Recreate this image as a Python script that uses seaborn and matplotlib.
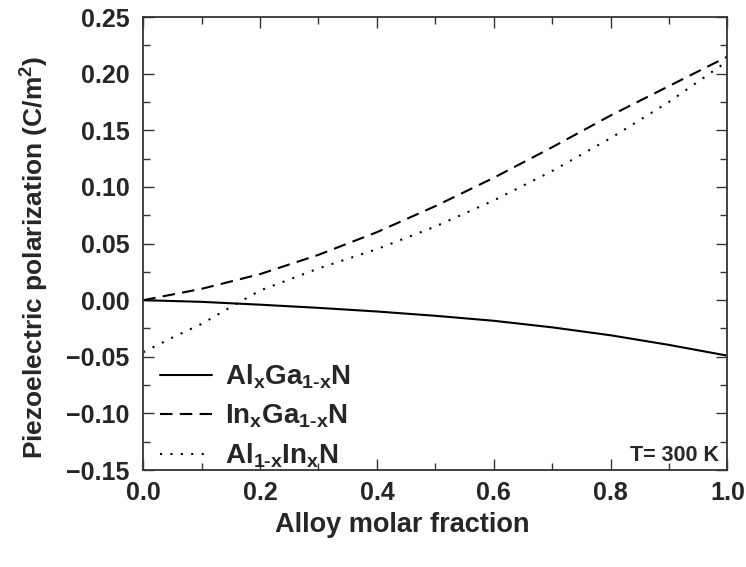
import numpy as np
import pandas as pd
import seaborn as sns
import matplotlib
matplotlib.use("Agg")
import matplotlib.pyplot as plt
from matplotlib.ticker import MultipleLocator

# Data
x_algan = [0.0, 0.1, 0.2, 0.3, 0.4, 0.5, 0.6, 0.7, 0.8, 0.9, 1.0]
y_algan = [0.0, -0.0015, -0.004, -0.0068, -0.010, -0.0138, -0.0182, -0.024, -0.031, -0.0395, -0.049]

x_ingan = [0.0, 0.1, 0.2, 0.3, 0.4, 0.5, 0.6, 0.7, 0.8, 0.9, 1.0]
y_ingan = [0.0, 0.010, 0.023, 0.040, 0.060, 0.083, 0.108, 0.135, 0.163, 0.189, 0.215]

x_alinn = [0.0, 0.05, 0.1, 0.15, 0.2, 0.3, 0.4, 0.5, 0.6, 0.7, 0.8, 0.9, 1.0]
y_alinn = [-0.046, -0.033, -0.021, -0.006, 0.0085, 0.028, 0.045, 0.065, 0.088, 0.114, 0.143, 0.175, 0.211]

labels = [r"$\mathbf{Al_xGa_{1\text{-}x}N}$",
          r"$\mathbf{In_xGa_{1\text{-}x}N}$",
          r"$\mathbf{Al_{1\text{-}x}In_xN}$"]

df = pd.concat([
    pd.DataFrame({"x": x_algan, "y": y_algan, "alloy": labels[0]}),
    pd.DataFrame({"x": x_ingan, "y": y_ingan, "alloy": labels[1]}),
    pd.DataFrame({"x": x_alinn, "y": y_alinn, "alloy": labels[2]}),
], ignore_index=True)

sns.set_theme(style="ticks")
plt.rcParams["font.family"] = ["Liberation Sans", "DejaVu Sans"]
plt.rcParams["font.weight"] = "bold"
plt.rcParams["mathtext.fontset"] = "custom"
plt.rcParams["mathtext.bf"] = "Liberation Sans:bold"
plt.rcParams["mathtext.rm"] = "Liberation Sans:bold"
plt.rcParams["mathtext.it"] = "Liberation Sans:bold"

fig = plt.figure(figsize=(7.46, 5.67), dpi=100)
ax = fig.add_axes([0.192, 0.171, 0.783, 0.799])

sns.lineplot(data=df, x="x", y="y", style="alloy", color="black",
             dashes={labels[0]: "", labels[1]: (6, 3.5), labels[2]: (1, 4)},
             linewidth=1.5, ax=ax, sort=True)

ax.set_xlim(0, 1.0)
ax.set_ylim(-0.15, 0.25)
ax.xaxis.set_major_locator(MultipleLocator(0.2))
ax.xaxis.set_minor_locator(MultipleLocator(0.1))
ax.yaxis.set_major_locator(MultipleLocator(0.05))
ax.yaxis.set_minor_locator(MultipleLocator(0.025))
ax.xaxis.set_major_formatter(matplotlib.ticker.FormatStrFormatter("%.1f"))
ax.yaxis.set_major_formatter(matplotlib.ticker.FuncFormatter(
    lambda v, p: ("\u2212" if v < -1e-9 else "") + "%.2f" % abs(v)))

ax.tick_params(which="both", direction="in", top=True, right=True,
               labelsize=18, width=1.0, color="#333333")
ax.tick_params(which="major", length=8)
ax.tick_params(which="minor", length=5)
ax.tick_params(axis="y", which="major", pad=10)
ax.tick_params(axis="x", which="major", pad=8)
for lab in ax.get_xticklabels() + ax.get_yticklabels():
    lab.set_fontweight("bold")
for s in ax.spines.values():
    s.set_linewidth(1.3)
    s.set_color("#333333")

ax.set_xlabel("Alloy molar fraction", fontsize=19.5, fontweight="bold")
ax.xaxis.set_label_coords(0.443, -0.092)
ax.set_ylabel(r"Piezoelectric polarization (C/m$^\mathbf{2}$)", fontsize=19,
              fontweight="bold")
ax.yaxis.set_label_coords(-0.158, 0.47)

leg = ax.legend(loc="lower left", frameon=False, fontsize=20, handlelength=1.87,
                handletextpad=0.47, borderaxespad=0.0, borderpad=0.0,
                bbox_to_anchor=(0.029, 0.0), labelspacing=0.41)

ax.text(0.985, 0.01, "T= 300 K", transform=ax.transAxes, ha="right", va="bottom",
        fontsize=15.5, fontweight="bold")

fig.savefig("out.png", dpi=100)
